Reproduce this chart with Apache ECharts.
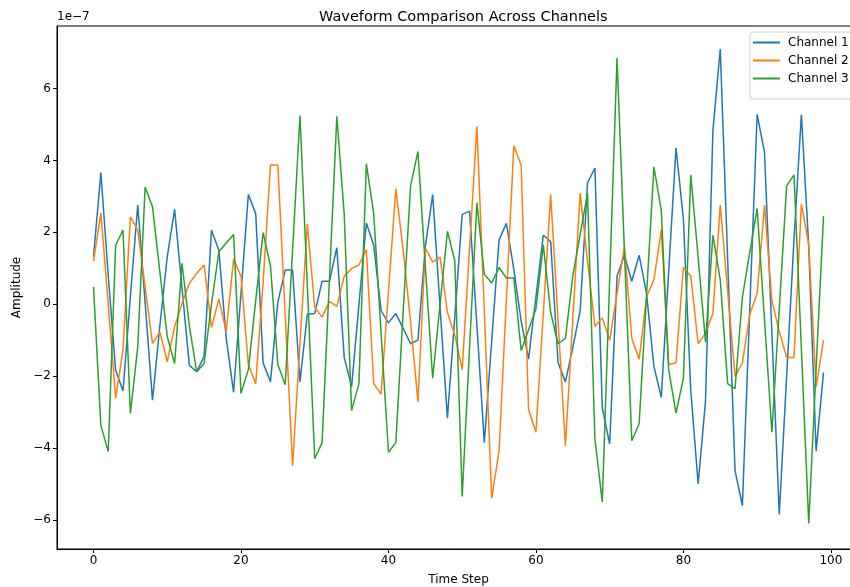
<!DOCTYPE html>
<html>
<head>
<meta charset="utf-8">
<script src="https://cdn.jsdelivr.net/npm/echarts@6/dist/echarts.min.js"></script>
<style>
  html, body { margin: 0; padding: 0; background: #fff; overflow: hidden; }
  #main { width: 850px; height: 587px; }
</style>
</head>
<body>
<div id="main"></div>
<script>
// amplitudes in units of 1e-7, one value per time step 0..99
var ch1 = [1.32, 3.66, 0.8, -1.84, -2.41, 0.2, 2.76, 0.05, -2.67, -0.6,
    1.32, 2.64, 0.45, -1.7, -1.88, -1.45, 2.06, 1.5, -0.95, -2.45,
    0.3, 3.05, 2.52, -1.63, -2.16, 0.06, 0.95, 0.95, -2.16, -0.28,
    -0.26, 0.64, 0.64, 1.57, -1.48, -2.3, 0.0, 2.26, 1.65, -0.18,
    -0.52, -0.26, -0.67, -1.1, -1.0, 1.6, 3.05, -0.1, -3.17, -0.34,
    2.5, 2.59, -0.6, -3.85, -1.03, 1.79, 2.25, 0.97, -0.47, -1.53,
    0.2, 1.92, 1.74, -1.63, -2.16, -1.2, -0.18, 3.38, 3.79, -2.88,
    -3.89, 0.78, 1.36, 0.64, 1.36, 0.3, -1.73, -2.59, 0.9, 4.35,
    2.37, -2.4, -5.0, -2.69, 4.83, 7.1, 1.26, -4.62, -5.6, -0.13,
    5.28, 4.22, -0.8, -5.85, -2.0, 1.8, 5.28, 1.6, -4.09, -1.9];
var ch2 = [1.2, 2.54, 0.0, -2.62, -1.28, 2.43, 2.06, 0.48, -1.09, -0.77,
    -1.6, -0.63, 0.02, 0.58, 0.86, 1.09, -0.65, 0.15, -0.76, 1.26,
    0.78, -1.68, -2.21, 0.6, 3.87, 3.87, -0.3, -4.5, -1.1, 2.23,
    -0.09, -0.36, 0.08, -0.06, 0.78, 0.99, 1.09, 1.52, -2.21, -2.5,
    0.35, 3.21, 1.5, -0.5, -2.72, 1.57, 1.17, 1.31, -0.23, -0.86,
    -1.82, 1.55, 4.95, -0.18, -5.4, -4.09, 0.16, 4.41, 3.87, -2.93,
    -3.56, -0.26, 3.05, -0.45, -3.94, -0.42, 3.09, 1.2, -0.62, -0.38,
    -1.0, 0.3, 1.6, -0.95, -1.53, 0.2, 0.68, 2.06, -1.68, -1.63,
    1.02, 0.78, -1.1, -0.81, -0.26, 2.76, 0.37, -2.01, -1.63, -0.28,
    0.3, 2.76, 0.1, -0.76, -1.48, -1.48, 2.8, 1.65, -2.3, -1.0];
var ch3 = [0.48, -3.37, -4.1, 1.64, 2.06, -3.04, -1.19, 3.26, 2.71, 0.9,
    -0.9, -1.65, 1.14, -0.6, -1.88, -1.65, 0.0, 1.46, 1.7, 1.94,
    -2.48, -1.82, 0.1, 1.99, 1.07, -1.68, -2.24, 1.5, 5.25, 0.5,
    -4.3, -3.85, 0.7, 5.23, 2.5, -2.96, -2.21, 3.91, 2.52, -0.8,
    -4.12, -3.85, -0.2, 3.29, 4.25, 1.07, -2.06, 0.0, 2.03, 1.21,
    -5.35, -1.2, 2.82, 0.83, 0.59, 1.02, 0.73, 0.73, -1.29, -0.71,
    -0.13, 1.65, -0.23, -1.1, -0.95, 0.78, 1.94, 3.09, -3.75, -5.5,
    0.68, 6.85, 1.5, -3.8, -3.32, 0.25, 3.82, 2.61, -1.82, -3.03,
    -2.06, 3.6, 1.3, -1.05, 1.92, 0.68, -2.21, -2.35, 0.2, 1.44,
    2.66, -0.44, -3.56, -0.13, 3.29, 3.6, -1.23, -6.1, -1.78, 2.45];
var channelNames = ['Channel 1', 'Channel 2', 'Channel 3'];
var xTicks = [0, 20, 40, 60, 80, 100];
var yTicks = [-6, -4, -2, 0, 2, 4, 6];

var colors = ['#1f77b4', '#ff7f0e', '#2ca02c'];
var font = 'DejaVu Sans';

function pairs(arr) {
    return arr.map(function (v, i) { return [i, v]; });
}

var chart = echarts.init(document.getElementById('main'), null, {renderer: 'canvas'});

var option = {
    backgroundColor: '#fff',
    animation: false,
    color: colors,
    title: {
        text: 'Waveform Comparison Across Channels',
        left: 314,
        top: 5,
        textStyle: {fontFamily: font, fontSize: 14.5, fontWeight: 'normal', color: '#000'}
    },
    graphic: [
        {type: 'text', left: 57, top: 11,
         style: {text: '1e\u22127', font: '12px DejaVu Sans', fill: '#000'}}
    ],
    legend: {
        orient: 'vertical',
        left: 750,
        top: 32,
        padding: [4, 8, 14, 3],
        itemGap: 5,
        itemWidth: 27,
        itemHeight: 2,
        icon: 'rect',
        borderColor: '#d0d0d0',
        borderWidth: 1,
        borderRadius: 3,
        backgroundColor: 'rgba(255,255,255,0.8)',
        textStyle: {fontFamily: font, fontSize: 12, color: '#000', lineHeight: 13, padding: [0, 0, 0, 3]},
        data: channelNames
    },
    grid: {
        left: 57,
        top: 26,
        right: -10,
        bottom: 38,
        show: true,
        borderColor: '#000',
        borderWidth: 1,
        containLabel: false,
        outerBoundsMode: 'none'
    },
    xAxis: {
        type: 'value',
        min: -4.95,
        max: 103.95,
        name: 'Time Step',
        nameLocation: 'middle',
        nameGap: 25,
        nameTextStyle: {fontFamily: font, fontSize: 12, color: '#000'},
        axisLine: {show: true, onZero: false, lineStyle: {color: '#000', width: 1}},
        axisTick: {show: true, length: 4, lineStyle: {color: '#000'}, customValues: xTicks},
        axisLabel: {fontFamily: font, fontSize: 12, color: '#000', margin: 6, customValues: xTicks},
        splitLine: {show: false}
    },
    yAxis: {
        type: 'value',
        min: -6.81,
        max: 7.74,
        name: 'Amplitude',
        nameLocation: 'middle',
        nameGap: 34,
        nameRotate: 90,
        nameTextStyle: {fontFamily: font, fontSize: 12, color: '#000'},
        axisLine: {show: true, onZero: false, lineStyle: {color: '#000', width: 1}},
        axisTick: {show: true, length: 4, lineStyle: {color: '#000'}, customValues: yTicks},
        axisLabel: {fontFamily: font, fontSize: 12, color: '#000', margin: 6, customValues: yTicks,
            formatter: function (v) { return v < 0 ? '\u2212' + Math.abs(v) : String(v); }},
        splitLine: {show: false}
    },
    series: [ch1, ch2, ch3].map(function (arr, k) {
        return {
            name: channelNames[k],
            type: 'line',
            data: pairs(arr),
            showSymbol: false,
            symbol: 'none',
            lineStyle: {width: 1.5, color: colors[k]},
            itemStyle: {color: colors[k]},
            z: 2 + k
        };
    })
};

chart.setOption(option);
</script>
</body>
</html>
